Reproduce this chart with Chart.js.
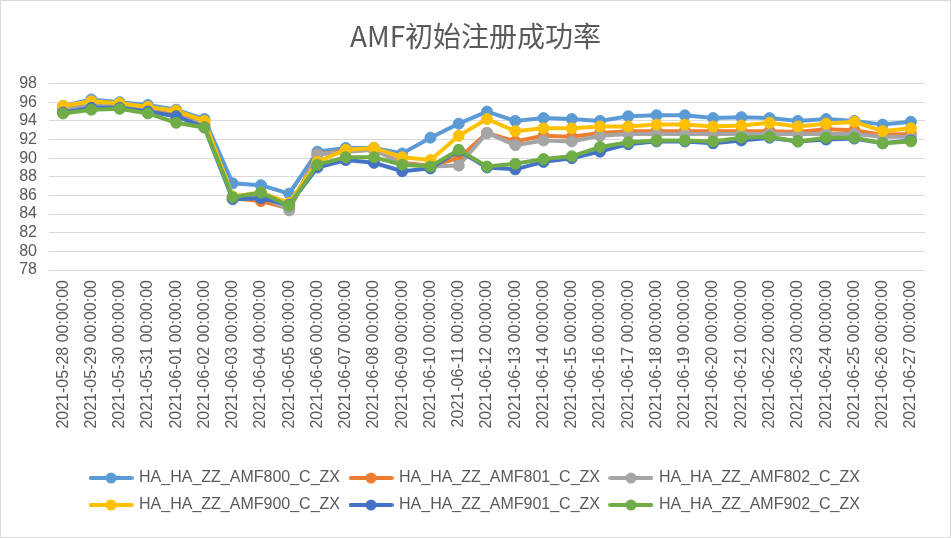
<!DOCTYPE html>
<html>
<head>
<meta charset="utf-8">
<title>AMF初始注册成功率</title>
<script src="https://cdn.jsdelivr.net/npm/chart.js@4.4.1/dist/chart.umd.min.js"></script>
<style>
  html, body { margin: 0; padding: 0; background: #fff; }
  #box { width: 951px; height: 538px; position: relative; }
</style>
</head>
<body>
<div id="box"><canvas id="amf"></canvas></div>
<script>
const dates = [
    '2021-05-28 00:00:00', '2021-05-29 00:00:00', '2021-05-30 00:00:00', '2021-05-31 00:00:00',
    '2021-06-01 00:00:00', '2021-06-02 00:00:00', '2021-06-03 00:00:00', '2021-06-04 00:00:00',
    '2021-06-05 00:00:00', '2021-06-06 00:00:00', '2021-06-07 00:00:00', '2021-06-08 00:00:00',
    '2021-06-09 00:00:00', '2021-06-10 00:00:00', '2021-06-11 00:00:00', '2021-06-12 00:00:00',
    '2021-06-13 00:00:00', '2021-06-14 00:00:00', '2021-06-15 00:00:00', '2021-06-16 00:00:00',
    '2021-06-17 00:00:00', '2021-06-18 00:00:00', '2021-06-19 00:00:00', '2021-06-20 00:00:00',
    '2021-06-21 00:00:00', '2021-06-22 00:00:00', '2021-06-23 00:00:00', '2021-06-24 00:00:00',
    '2021-06-25 00:00:00', '2021-06-26 00:00:00', '2021-06-27 00:00:00'
];

const names = [
    'HA_HA_ZZ_AMF800_C_ZX', 'HA_HA_ZZ_AMF801_C_ZX', 'HA_HA_ZZ_AMF802_C_ZX',
    'HA_HA_ZZ_AMF900_C_ZX', 'HA_HA_ZZ_AMF901_C_ZX', 'HA_HA_ZZ_AMF902_C_ZX'
];

const colors = ['#5B9BD5', '#ED7D31', '#A5A5A5', '#FFC000', '#4472C4', '#70AD47'];

const amf800 = [95.6, 96.3, 96.0, 95.7, 95.2, 94.2, 87.3, 87.1, 86.2, 90.7, 91.1, 91.1, 90.5, 92.2, 93.7, 95.0,
                94.0, 94.3, 94.2, 94.0, 94.5, 94.6, 94.6, 94.3, 94.4, 94.3, 94.0, 94.2, 94.0, 93.6, 93.9];
const amf801 = [95.4, 95.9, 95.7, 95.2, 94.6, 93.8, 85.7, 85.4, 84.6, 90.4, 90.8, 90.9, 89.5, 89.2, 90.0, 92.7,
                91.8, 92.4, 92.3, 92.7, 92.9, 92.9, 92.9, 92.9, 92.9, 92.9, 92.8, 93.1, 93.0, 92.5, 92.6];
const amf802 = [95.3, 95.8, 95.6, 95.1, 94.5, 93.6, 85.7, 86.0, 84.4, 90.4, 90.7, 90.9, 89.4, 89.1, 89.2, 92.7,
                91.4, 91.9, 91.8, 92.4, 92.6, 92.6, 92.6, 92.6, 92.6, 92.6, 92.6, 92.6, 92.6, 92.3, 92.3];
const amf900 = [95.6, 96.1, 95.9, 95.5, 95.1, 94.0, 85.9, 86.3, 85.2, 89.6, 90.9, 91.1, 90.1, 89.8, 92.4, 94.2,
                92.9, 93.2, 93.2, 93.4, 93.4, 93.6, 93.6, 93.4, 93.5, 93.8, 93.4, 93.7, 93.9, 92.9, 93.2];
const amf901 = [94.9, 95.4, 95.4, 95.0, 94.5, 93.3, 85.6, 85.7, 85.0, 89.0, 89.8, 89.5, 88.6, 88.9, 90.8, 89.0,
                88.8, 89.6, 90.0, 90.7, 91.5, 91.8, 91.8, 91.6, 91.9, 92.2, 91.8, 92.0, 92.1, 91.6, 91.9];
const amf902 = [94.8, 95.2, 95.3, 94.8, 93.8, 93.3, 85.8, 86.3, 84.9, 89.3, 90.1, 90.1, 89.3, 89.1, 90.9, 89.1,
                89.4, 89.9, 90.2, 91.2, 91.7, 91.9, 91.9, 91.8, 92.2, 92.3, 91.8, 92.2, 92.2, 91.6, 91.8];

const series = [amf800, amf801, amf802, amf900, amf901, amf902];

const textFont = "'Liberation Sans', 'DejaVu Sans', sans-serif";
const greyText = '#595959';

// little line-with-dot pictures for the legend, like excel does
function legendMarker(color) {
    const c = document.createElement('canvas');
    c.width = 45;
    c.height = 14;
    const g = c.getContext('2d');
    g.strokeStyle = color;
    g.lineWidth = 4;
    g.lineCap = 'round';
    g.beginPath();
    g.moveTo(2, 7);
    g.lineTo(43, 7);
    g.stroke();
    g.fillStyle = color;
    g.beginPath();
    g.arc(22.5, 7, 5.5, 0, Math.PI * 2);
    g.fill();
    return c;
}
const markers = colors.map(legendMarker);

const frame = {
    id: 'frame',
    beforeDraw(chart) {
        const c = chart.ctx;
        c.save();
        c.fillStyle = '#ffffff';
        c.fillRect(0, 0, chart.width, chart.height);
        c.strokeStyle = '#d9d9d9';
        c.lineWidth = 1;
        c.strokeRect(0.5, 0.5, chart.width - 1, chart.height - 1);
        c.restore();
    }
};

const datasets = series.map(function (vals, i) {
    return {
        label: names[i],
        data: vals,
        borderColor: colors[i],
        backgroundColor: colors[i],
        pointBackgroundColor: colors[i],
        pointBorderColor: colors[i],
        borderWidth: 4,
        pointRadius: 5.5,
        pointBorderWidth: 1,
        tension: 0,
        fill: false,
        order: series.length - i   // later series on top
    };
});

new Chart(document.getElementById('amf'), {
    type: 'line',
    data: { labels: dates, datasets: datasets },
    plugins: [frame],
    options: {
        responsive: true,
        maintainAspectRatio: false,
        animation: false,
        layout: { padding: { left: 0, right: 0, top: 0, bottom: 15 } },
        plugins: {
            title: {
                display: true,
                text: 'AMF初始注册成功率',
                color: greyText,
                font: { family: "'Noto Sans CJK SC', 'Liberation Sans', sans-serif", size: 28, weight: 'normal' },
                padding: { top: 20, bottom: 30 }
            },
            legend: {
                position: 'bottom',
                labels: {
                    usePointStyle: true,
                    pointStyleWidth: 40,
                    padding: 11,
                    color: greyText,
                    font: { family: textFont, size: 16 },
                    generateLabels: function (chart) {
                        return chart.data.datasets.map(function (ds, i) {
                            return {
                                text: ds.label,
                                pointStyle: markers[i],
                                fillStyle: ds.borderColor,
                                strokeStyle: ds.borderColor,
                                fontColor: greyText,
                                lineWidth: 0,
                                hidden: false,
                                datasetIndex: i
                            };
                        });
                    }
                }
            },
            tooltip: { enabled: false }
        },
        scales: {
            x: {
                offset: true,
                grid: { display: false },
                border: { display: false },
                ticks: {
                    autoSkip: false,
                    minRotation: 90,
                    maxRotation: 90,
                    padding: 2,
                    color: greyText,
                    font: { family: textFont, size: 16 }
                },
                afterFit: function (scale) { scale.height = 189; }
            },
            y: {
                min: 78,
                max: 98,
                grid: { color: '#d9d9d9', lineWidth: 1, drawTicks: false },
                border: { display: false },
                ticks: {
                    stepSize: 2,
                    autoSkip: false,
                    padding: 12,
                    color: greyText,
                    font: { family: textFont, size: 16 }
                },
                afterFit: function (scale) { scale.width = 49; }
            },
            // empty right strip so the plot stops where excel's does
            yRight: {
                position: 'right',
                grid: { display: false },
                border: { display: false },
                ticks: { display: false },
                afterFit: function (scale) { scale.width = 26; }
            }
        }
    }
});
</script>
</body>
</html>
